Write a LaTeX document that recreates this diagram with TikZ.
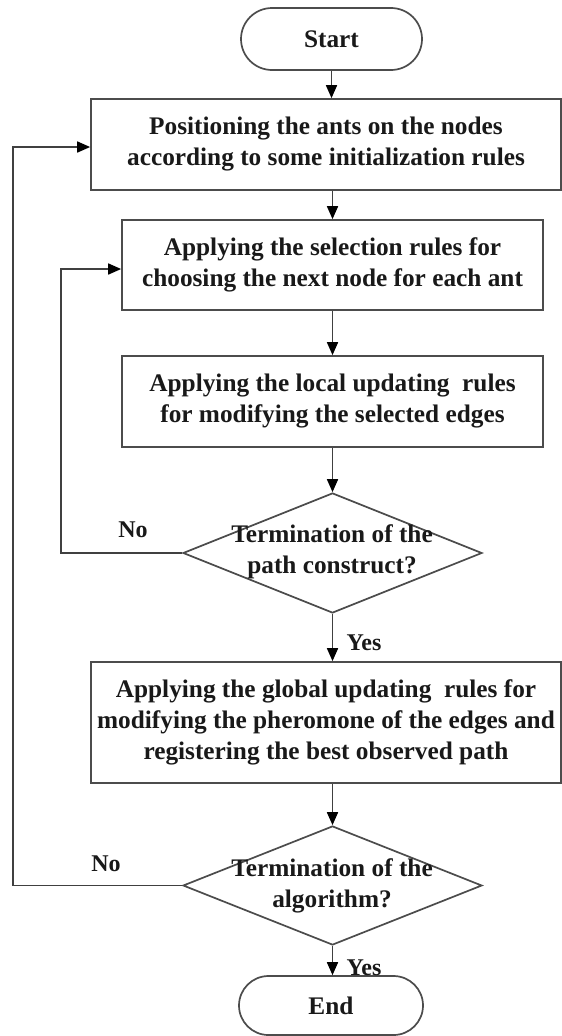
\documentclass[tikz,border=0pt]{standalone}
\usepackage{fontspec}
\setmainfont{Liberation Serif}
\usetikzlibrary{shapes.geometric,arrows.meta}
\begin{document}
\begin{tikzpicture}[x=1pt,y=-1pt,
  txt/.style={font=\bfseries\fontsize{25.3}{31}\selectfont, text=black!90, align=center, inner sep=0pt},
  lbl/.style={font=\bfseries\fontsize{24}{30}\selectfont, text=black!90, inner sep=0pt},
  box/.style={txt, draw=black!70, line width=1.7pt, rectangle},
  term/.style={box, rounded corners=#1},
  dec/.style={draw=black!70, line width=1.7pt, diamond, inner sep=0pt},
  arr/.style={draw=black!75, line width=1.7pt, -{Triangle[length=13pt,width=11pt,fill=black,color=black]}},
  ln/.style={draw=black!75, line width=1.7pt}]
\useasboundingbox (0,0) rectangle (562,1036);
\fill[white] (0,0) rectangle (562,1036);

\node[term=31pt, minimum width=181pt, minimum height=62pt] (start) at (331.5,39) {Start};
\node[box, minimum width=470pt, minimum height=91pt] (b1) at (326,144.5)
  {Positioning the ants on the nodes\\according to some initialization rules};
\node[box, minimum width=421pt, minimum height=90pt] (b2) at (332.5,265)
  {Applying the selection rules for\\choosing the next node for each ant};
\node[box, minimum width=421pt, minimum height=91pt] (b3) at (332.5,401.5)
  {Applying the local updating~ rules\\for modifying the selected edges};
\node[dec, minimum width=299pt, minimum height=120pt] (d1) at (332.5,553) {};
\node[txt] (d1t) at (332,552) {Termination of the\\path construct?};
\node[box, minimum width=470pt, minimum height=121pt] (b4) at (326,722.5)
  {Applying the global updating~ rules for\\modifying the pheromone of the edges and\\registering the best observed path};
\node[dec, minimum width=299pt, minimum height=119pt] (d2) at (332.5,885.5) {};
\node[txt] (d2t) at (332,886) {Termination of the\\algorithm?};
\node[term=29.5pt, minimum width=184pt, minimum height=59pt] (end) at (331,1005.5) {End};

\node[lbl] (no1) at (133,530) {No};
\node[lbl] (yes1) at (364,643) {Yes};
\node[lbl] (no2) at (106,864) {No};
\node[lbl] (yes2) at (364,968) {Yes};

\coordinate (c1) at (61,553);
\coordinate (c2) at (13,885.5);

\draw[arr] (start.south) -- (start.south |- b1.north);
\draw[arr] (b1.south -| b2.north) -- (b2.north);
\draw[arr] (b2.south) -- (b3.north);
\draw[arr] (b3.south) -- (d1.north);
\draw[arr] (d1.south) -- (d1.south |- b4.north);
\draw[arr] (b4.south -| d2.north) -- (d2.north);
\draw[arr] (d2.south) -- (d2.south |- end.north);
\draw[arr] (d1.west) -- (c1) |- ([yshift=-4pt]b2.west);
\draw[arr] (d2.west) -- (c2) |- ([yshift=-2.5pt]b1.west);
\end{tikzpicture}
\end{document}
